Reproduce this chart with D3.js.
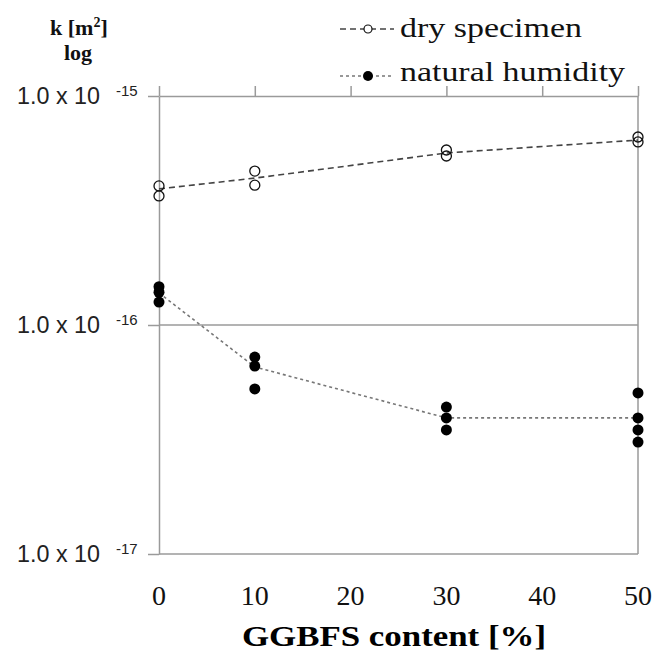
<!DOCTYPE html>
<html>
<head>
<meta charset="utf-8">
<script src="https://cdn.jsdelivr.net/npm/d3@7"></script>
<style>
  body { margin: 0; background: #fff; }
  #wrapper svg { display: block; }
</style>
</head>
<body>
<div id="wrapper"></div>
<script>
// data
const contents = [0, 10, 30, 50];
const dryMeasured = [
  [4.05e-16, 3.66e-16],
  [4.70e-16, 4.08e-16],
  [5.81e-16, 5.47e-16],
  [6.62e-16, 6.30e-16],
];
const dryMean = [3.93e-16, 4.38e-16, 5.64e-16, 6.42e-16];
const humidMeasured = [
  [1.47e-16, 1.39e-16, 1.26e-16],
  [7.24e-17, 6.62e-17, 5.26e-17],
  [4.38e-17, 3.93e-17, 3.48e-17],
  [5.05e-17, 3.93e-17, 3.48e-17, 3.08e-17],
];
const humidMean = [1.38e-16, 6.56e-17, 3.93e-17, 3.93e-17];
const xTicks = [0, 10, 20, 30, 40, 50];
const yTicks = [1e-17, 1e-16, 1e-15];
const yTickExp = ["-17", "-16", "-15"];
const seriesNames = ["dry specimen", "natural humidity"];

function drawChart() {
  //* dimensions
  const dimensions = {
    width: 657,
    height: 655,
    margin: { top: 96, right: 19, bottom: 101, left: 159 },
  };
  dimensions.boundedWidth =
    dimensions.width - dimensions.margin.left - dimensions.margin.right;
  dimensions.boundedHeight =
    dimensions.height - dimensions.margin.top - dimensions.margin.bottom;

  const wrapper = d3
    .select("#wrapper")
    .append("svg")
    .attr("width", dimensions.width)
    .attr("height", dimensions.height);

  const bounds = wrapper
    .append("g")
    .attr("transform", `translate(${dimensions.margin.left},${dimensions.margin.top})`);

  //* scales
  const xScale = d3.scaleLinear().domain([0, 50]).range([0, dimensions.boundedWidth]);
  const yScale = d3
    .scaleLog()
    .domain([1e-17, 1e-15])
    .range([dimensions.boundedHeight, 0]);

  const gray = "#9a9a9a";

  //* frame, grid and axes
  bounds
    .append("line")
    .attr("x1", 0)
    .attr("x2", dimensions.boundedWidth)
    .attr("y1", yScale(1e-16))
    .attr("y2", yScale(1e-16))
    .attr("stroke", gray)
    .attr("stroke-width", 1.5);

  bounds
    .append("line")
    .attr("x1", dimensions.boundedWidth)
    .attr("x2", dimensions.boundedWidth)
    .attr("y1", 0)
    .attr("y2", dimensions.boundedHeight)
    .attr("stroke", gray)
    .attr("stroke-width", 1.5);

  bounds
    .append("line")
    .attr("x1", 0)
    .attr("x2", dimensions.boundedWidth)
    .attr("y1", dimensions.boundedHeight)
    .attr("y2", dimensions.boundedHeight)
    .attr("stroke", gray)
    .attr("stroke-width", 1.5);

  const topAxis = bounds
    .append("g")
    .call(d3.axisTop(xScale).tickValues(xTicks).tickSize(10).tickSizeOuter(0).tickFormat(""));

  const leftAxis = bounds
    .append("g")
    .call(d3.axisLeft(yScale).tickValues(yTicks).tickSize(11).tickSizeOuter(0).tickFormat(""));

  [topAxis, leftAxis].forEach((ax) => {
    ax.selectAll("path, line").attr("stroke", gray).attr("stroke-width", 1.5);
  });

  // y tick labels "1.0 x 10^-n"
  const yLabels = wrapper.append("g").attr("font-family", "'Liberation Sans', Arial, sans-serif");
  yTicks.forEach((t, i) => {
    const y = yScale(t) + dimensions.margin.top;
    yLabels
      .append("text")
      .attr("x", 17)
      .attr("y", y + 8)
      .attr("fill", "#222")
      .attr("font-size", 24)
      .attr("textLength", 83)
      .attr("lengthAdjust", "spacingAndGlyphs")
      .text("1.0 x 10");
    yLabels
      .append("text")
      .attr("x", 116)
      .attr("y", y)
      .attr("font-size", 15)
      .attr("fill", "#222")
      .text(yTickExp[i]);
  });

  // x tick labels
  const xLabels = wrapper
    .append("g")
    .attr("font-family", "'Liberation Serif', 'Times New Roman', serif")
    .attr("font-size", 28)
    .attr("text-anchor", "middle");
  xTicks.forEach((t) => {
    xLabels
      .append("text")
      .attr("x", xScale(t) + dimensions.margin.left)
      .attr("y", 605)
      .attr("fill", "#111")
      .text(t);
  });

  // axis titles
  wrapper
    .append("text")
    .attr("x", 394)
    .attr("y", 646)
    .attr("text-anchor", "middle")
    .attr("font-family", "'Liberation Serif', 'Times New Roman', serif")
    .attr("font-weight", "bold")
    .attr("font-size", 30)
    .attr("textLength", 304)
    .attr("lengthAdjust", "spacingAndGlyphs")
    .text("GGBFS content [%]");

  const yTitle = wrapper
    .append("g")
    .attr("font-family", "'Liberation Serif', 'Times New Roman', serif")
    .attr("font-weight", "bold")
    .attr("font-size", 22)
    .attr("fill", "#111");
  const kText = yTitle.append("text").attr("x", 50).attr("y", 35);
  kText.append("tspan").text("k [m");
  kText.append("tspan").attr("font-size", 14).attr("dy", -8).text("2");
  kText.append("tspan").attr("dy", 8).text("]");
  yTitle.append("text").attr("x", 64).attr("y", 60).text("log");

  //* lines
  const lineGenerator = d3
    .line()
    .x((d, i) => xScale(contents[i]))
    .y((d) => yScale(d));

  bounds
    .append("path")
    .attr("d", lineGenerator(dryMean))
    .attr("fill", "none")
    .attr("stroke", "#444")
    .attr("stroke-width", 1.6)
    .attr("stroke-dasharray", "6,4");

  bounds
    .append("path")
    .attr("d", lineGenerator(humidMean))
    .attr("fill", "none")
    .attr("stroke", "#777")
    .attr("stroke-width", 1.6)
    .attr("stroke-dasharray", "3,3");

  //* points
  const flatten = (groups) =>
    groups.flatMap((vals, i) => vals.map((v) => ({ x: contents[i], y: v })));

  bounds
    .selectAll(".dry")
    .data(flatten(dryMeasured))
    .join("circle")
    .attr("class", "dry")
    .attr("cx", (d) => xScale(d.x))
    .attr("cy", (d) => yScale(d.y))
    .attr("r", 5)
    .attr("fill", "none")
    .attr("stroke", "#111")
    .attr("stroke-width", 1.3);

  bounds
    .selectAll(".humid")
    .data(flatten(humidMeasured))
    .join("circle")
    .attr("class", "humid")
    .attr("cx", (d) => xScale(d.x))
    .attr("cy", (d) => yScale(d.y))
    .attr("r", 5.5)
    .attr("fill", "#000");

  //* legend
  const legend = wrapper.append("g");
  const legendRows = [
    { y: 29, base: 37, dash: "6,4", color: "#444", filled: false, width: 182 },
    { y: 76, base: 81, dash: "3,3", color: "#777", filled: true, width: 225 },
  ];
  legendRows.forEach((row, i) => {
    legend
      .append("line")
      .attr("x1", 340)
      .attr("x2", 394)
      .attr("y1", row.y)
      .attr("y2", row.y)
      .attr("stroke", row.color)
      .attr("stroke-width", 1.5)
      .attr("stroke-dasharray", row.dash);
    legend
      .append("circle")
      .attr("cx", 368)
      .attr("cy", row.y)
      .attr("r", row.filled ? 5 : 4)
      .attr("fill", row.filled ? "#000" : "#fff")
      .attr("stroke", "#111")
      .attr("stroke-width", row.filled ? 0 : 1.2);
    legend
      .append("text")
      .attr("x", 400)
      .attr("y", row.base)
      .attr("font-family", "'Liberation Serif', 'Times New Roman', serif")
      .attr("font-size", 27)
      .attr("fill", "#111")
      .attr("textLength", row.width)
      .attr("lengthAdjust", "spacingAndGlyphs")
      .text(seriesNames[i]);
  });
}
drawChart();
</script>
</body>
</html>
